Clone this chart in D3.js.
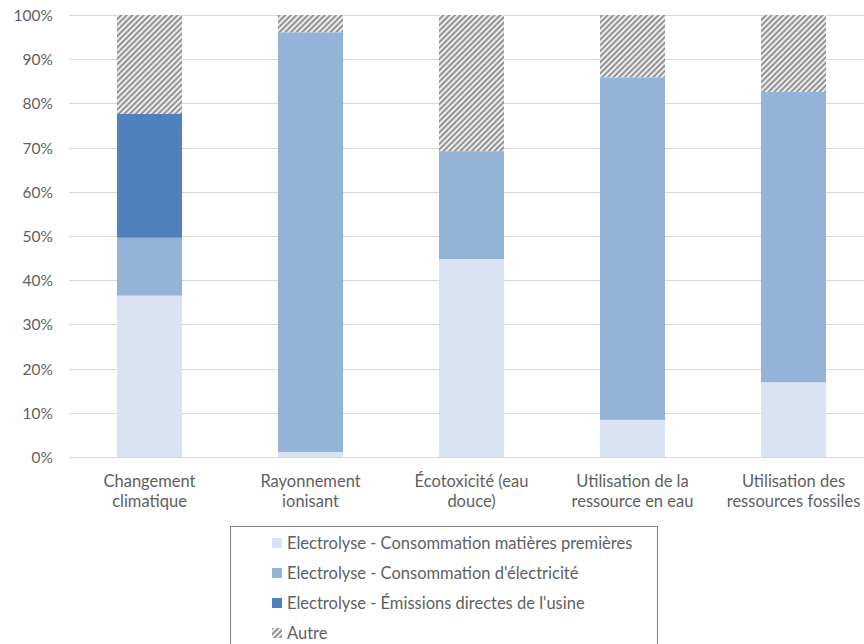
<!DOCTYPE html>
<meta charset="utf-8">
<style>
body { margin: 0; background: #fff; }
text { font-family: "Lato", "Liberation Sans", sans-serif; fill: #5f5f5f; }
.grid line { stroke: #d9d9d9; stroke-width: 1px; shape-rendering: crispEdges; }
.grid path { stroke-width: 0; }
</style>
<body>
<script src="https://d3js.org/d3.v7.min.js"></script>
<script>

// categories (label lines)
var categories = ["Changement climatique", "Rayonnement ionisant", "Écotoxicité (eau douce)",
                  "Utilisation de la ressource en eau", "Utilisation des ressources fossiles"];
var labelLines = [["Changement", "climatique"], ["Rayonnement", "ionisant"], ["Écotoxicité (eau", "douce)"],
                  ["Utilisation de la", "ressource en eau"], ["Utilisation des", "ressources fossiles"]];

// series values (%)
var matieres    = [36.5, 1.1, 44.8, 8.4, 16.9];
var electricite = [13.1, 95.0, 24.4, 77.5, 65.7];
var emissions   = [28.0, 0, 0, 0, 0];
var autre       = [22.4, 3.9, 30.8, 14.1, 17.4];

var seriesNames = ["Electrolyse - Consommation matières premières",
                   "Electrolyse - Consommation d'électricité",
                   "Electrolyse - Émissions directes de l'usine",
                   "Autre"];
var yTicks = [0, 10, 20, 30, 40, 50, 60, 70, 80, 90, 100];

var colors = ["#dae3f3", "#94b3d7", "#4f81bd", "url(#hatch)"];

var W = 864, H = 644;
var margin = {top: 15, left: 69, bottom: 187};
var plotW = 805, plotH = H - margin.top - margin.bottom;

var svg = d3.select("body").append("svg")
    .attr("width", W)
    .attr("height", H);

// hatch pattern for "Autre"
var pat = svg.append("defs").append("pattern")
    .attr("id", "hatch")
    .attr("patternUnits", "userSpaceOnUse")
    .attr("width", 4).attr("height", 4)
    .attr("patternTransform", "rotate(45)");
pat.append("rect").attr("width", 4).attr("height", 4).attr("fill", "#ededed");
pat.append("line").attr("x1", 1).attr("y1", 0).attr("x2", 1).attr("y2", 4)
    .attr("stroke", "#8a8a8a").attr("stroke-width", 1.8);

var g = svg.append("g")
    .attr("transform", "translate(" + margin.left + "," + margin.top + ")");

var x = d3.scaleBand().domain(categories).range([0, plotW])
    .paddingInner(0.596).paddingOuter(0.298);
var y = d3.scaleLinear().domain([0, 100]).range([plotH, 0]);

// gridlines
g.append("g")
  .attr("class", "grid")
  .call(d3.axisLeft(y).tickValues(yTicks).tickSize(-plotW).tickFormat(""));

// y tick labels
g.append("g").selectAll("text")
  .data(yTicks)
  .enter().append("text")
    .attr("x", -16)
    .attr("y", function(d) { return y(d) + 6; })
    .attr("text-anchor", "end")
    .style("font-size", "15.5px")
    .text(function(d) { return d + "%"; });

// stack
var table = categories.map(function(c, i) {
  return {cat: c, s0: matieres[i], s1: electricite[i], s2: emissions[i], s3: autre[i]};
});
var stack = d3.stack().keys(["s0", "s1", "s2", "s3"])(table);

g.append("g").selectAll("g")
  .data(stack)
  .enter().append("g")
    .attr("fill", function(d, i) { return colors[i]; })
  .selectAll("rect")
  .data(function(d) { return d; })
  .enter().append("rect")
    .attr("x", function(d) { return x(d.data.cat); })
    .attr("width", x.bandwidth())
    .attr("y", function(d) { return y(d[1]); })
    .attr("height", function(d) { return y(d[0]) - y(d[1]); });

// category labels
var lab = g.append("g").selectAll("text")
  .data(categories)
  .enter().append("text")
    .attr("text-anchor", "middle")
    .style("font-size", "16.5px")
    .attr("transform", function(d) { return "translate(" + (x(d) + x.bandwidth() / 2) + "," + (plotH + 30) + ")"; });
lab.selectAll("tspan")
  .data(function(d, i) { return labelLines[i]; })
  .enter().append("tspan")
    .attr("x", 0)
    .attr("y", function(d, j) { return j * 19.5; })
    .text(function(d) { return d; });

// legend
var leg = svg.append("g").attr("transform", "translate(230,526)");
leg.append("rect")
    .attr("x", 0.5).attr("y", 0.5)
    .attr("width", 427).attr("height", 140)
    .attr("fill", "none")
    .attr("stroke", "#7f7f7f");
var items = leg.selectAll("g.item")
  .data(seriesNames)
  .enter().append("g")
    .attr("class", "item")
    .attr("transform", function(d, i) { return "translate(42," + (17 + i * 30) + ")"; });
items.append("rect")
    .attr("x", 0).attr("y", -5)
    .attr("width", 10).attr("height", 10)
    .attr("fill", function(d, i) { return colors[i]; });
items.append("text")
    .attr("x", 15).attr("y", 5.5)
    .style("font-size", "16.5px")
    .text(function(d) { return d; });

</script>
</body>
</html>
